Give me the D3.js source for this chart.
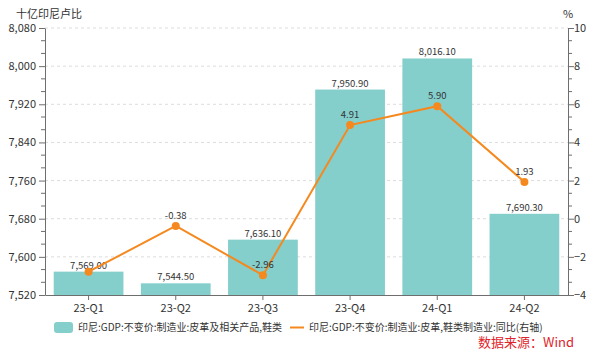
<!DOCTYPE html>
<html><head><meta charset="utf-8">
<script src="https://cdn.jsdelivr.net/npm/d3@7"></script>
<style>body{margin:0;background:#fff}svg{display:block;font-family:"Noto Sans CJK SC","Noto Sans",sans-serif}</style>
</head><body><svg id="c" width="600" height="358"></svg>
<script>
const categories = ["23-Q1","23-Q2","23-Q3","23-Q4","24-Q1","24-Q2"];
const barValues = [7569.00, 7544.50, 7636.10, 7950.90, 8016.10, 7690.30];
const lineValues = [-2.78, -0.38, -2.96, 4.91, 5.90, 1.93];
const lineLabelShown = [false, true, true, true, true, true];
const leftTicks = [7520,7600,7680,7760,7840,7920,8000,8080];
const rightTicks = [-4,-2,0,2,4,6,8,10];
const barName = "印尼:GDP:不变价:制造业:皮革及相关产品,鞋类";
const lineName = "印尼:GDP:不变价:制造业:皮革,鞋类制造业:同比(右轴)";

const svg = d3.select("#c");
const L = 45, R = 568, T = 28, B = 295;
const x = d3.scaleBand().domain(categories).range([L, R]).paddingInner(0.2).paddingOuter(0.1);
const yL = d3.scaleLinear().domain([7520, 8080]).range([B, T]);
const yR = d3.scaleLinear().domain([-4, 10]).range([B, T]);
const fmt = d3.format(",.2f");
const axisColor = "#6e6e6e", textColor = "#333";

// grid
svg.append("g").selectAll("line").data(leftTicks.slice(1)).join("line")
  .attr("x1", L).attr("x2", R).attr("y1", d => yL(d)).attr("y2", d => yL(d))
  .attr("stroke", "#dcdcdc").attr("stroke-dasharray", "3,3");

// bars
svg.append("g").selectAll("rect").data(barValues).join("rect")
  .attr("x", (d,i) => x(categories[i])).attr("width", x.bandwidth())
  .attr("y", d => yL(d)).attr("height", d => B - yL(d))
  .attr("fill", "#84cecc");
svg.append("g").selectAll("text").data(barValues).join("text")
  .attr("x", (d,i) => x(categories[i]) + x.bandwidth()/2).attr("y", d => yL(d) - 3)
  .attr("text-anchor", "middle").attr("font-size", 9.5).attr("fill", textColor)
  .text(d => fmt(d));

function minorTicks(ticks) {
  const out = [];
  for (let i = 0; i < ticks.length - 1; i++) {
    const s = (ticks[i+1] - ticks[i]) / 3;
    out.push(ticks[i] + s, ticks[i] + 2*s);
  }
  return out;
}

// left axis
const gl = svg.append("g").attr("transform", `translate(${L},0)`)
  .call(d3.axisLeft(yL).tickValues(leftTicks).tickFormat(d3.format(",")).tickSize(6).tickSizeOuter(0));
gl.selectAll("text").attr("font-size", 11).attr("fill", textColor).attr("font-family", "'Noto Sans CJK SC',sans-serif");
gl.selectAll("line,path").attr("stroke", axisColor);
svg.append("g").selectAll("line").data(minorTicks(leftTicks)).join("line")
  .attr("x1", L - 4).attr("x2", L).attr("y1", d => yL(d)).attr("y2", d => yL(d)).attr("stroke", axisColor);

// right axis
const gr = svg.append("g").attr("transform", `translate(${R},0)`)
  .call(d3.axisRight(yR).tickValues(rightTicks).tickSize(6).tickSizeOuter(0));
gr.selectAll("text").attr("font-size", 11).attr("fill", textColor).attr("font-family", "'Noto Sans CJK SC',sans-serif").attr("x", 6);
gr.selectAll("line,path").attr("stroke", axisColor);
svg.append("g").selectAll("line").data(minorTicks(rightTicks)).join("line")
  .attr("x1", R).attr("x2", R + 4).attr("y1", d => yR(d)).attr("y2", d => yR(d)).attr("stroke", axisColor);

// x axis
const gx = svg.append("g").attr("transform", `translate(0,${B})`)
  .call(d3.axisBottom(x).tickSize(5).tickSizeOuter(0));
gx.selectAll("text").attr("font-size", 11).attr("fill", textColor).attr("font-family", "'Noto Sans CJK SC',sans-serif").attr("dy", "0.85em");
gx.selectAll("line,path").attr("stroke", axisColor);

// line
const cx = i => x(categories[i]) + x.bandwidth()/2;
svg.append("path").datum(lineValues)
  .attr("d", d3.line().x((d,i) => cx(i)).y(d => yR(d)))
  .attr("fill", "none").attr("stroke", "#f5891f").attr("stroke-width", 2);
svg.append("g").selectAll("circle").data(lineValues).join("circle")
  .attr("cx", (d,i) => cx(i)).attr("cy", d => yR(d)).attr("r", 4).attr("fill", "#f5891f");
svg.append("g").selectAll("text").data(lineValues.map((v,i)=>({v,i})).filter(d => lineLabelShown[d.i])).join("text")
  .attr("x", d => cx(d.i)).attr("y", d => yR(d.v) - 7)
  .attr("text-anchor", "middle").attr("font-size", 9.5).attr("fill", textColor)
  .text(d => d.v.toFixed(2));

// axis titles
svg.append("text").attr("x", 16).attr("y", 18).attr("font-size", 11).attr("fill", textColor).text("十亿印尼卢比");
svg.append("text").attr("x", R).attr("y", 18).attr("text-anchor", "middle").attr("font-size", 11).attr("fill", textColor).text("%");

// legend
svg.append("rect").attr("x", 54).attr("y", 322).attr("width", 19).attr("height", 11).attr("rx", 3).attr("fill", "#84cecc");
svg.append("text").attr("x", 78).attr("y", 331).attr("font-size", 10).attr("fill", textColor).text(barName);
svg.append("line").attr("x1", 290).attr("x2", 304).attr("y1", 327.5).attr("y2", 327.5).attr("stroke", "#f5891f").attr("stroke-width", 2);
svg.append("text").attr("x", 309).attr("y", 331).attr("font-size", 10).attr("fill", textColor).text(lineName);

// source
svg.append("text").attr("x", 574).attr("y", 347).attr("text-anchor", "end").attr("font-size", 13).attr("fill", "#e0242b").text("数据来源：Wind");
</script></body></html>
